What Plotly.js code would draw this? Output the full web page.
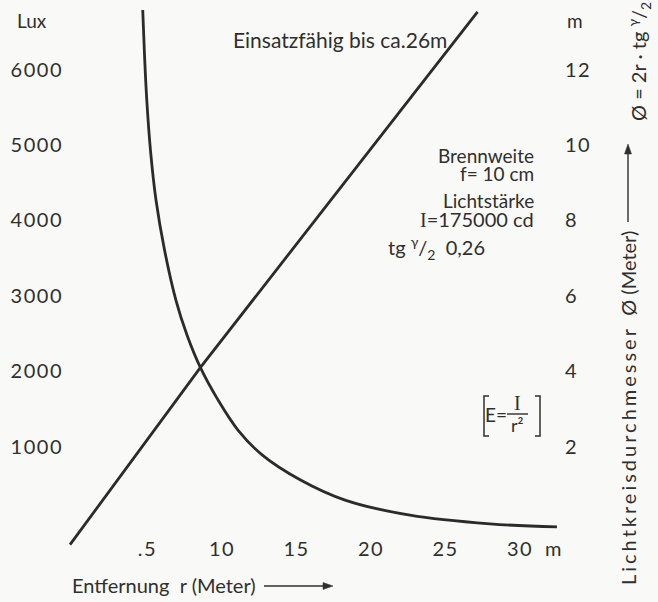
<!DOCTYPE html>
<html>
<head>
<meta charset="utf-8">
<script src="https://cdn.plot.ly/plotly-3.0.1.min.js"></script>
<style>html,body{margin:0;padding:0;background:#f9f9f7;}</style>
</head>
<body>
<div id="chart" style="width:658px;height:602px;"></div>
<script>
// Beleuchtungsstärke E (Lux) über Entfernung r (Meter)
const curveR   = [4.68, 4.80, 4.95, 5.20, 5.57, 6.14, 6.91, 7.65, 8.57, 9.73, 11.07, 12.69, 15.24, 18.26, 22.62, 27.99, 32.48];
const curveLux = [6790, 6190, 5600, 4930, 4270, 3610, 2940, 2480, 2040, 1620, 1220, 890, 560, 290, 90, -25, -65];
// Lichtkreisdurchmesser Ø (Meter) über Entfernung r
const lineR    = [-0.2, 8.57, 27.15];
const lineDiam = [-0.6, 4.11, 13.53];
// Achsenbeschriftungen
const xTickVals = [5, 10, 15, 20, 25, 30];
const xTickText = ['.5', '10', '15', '20', '25', '30'];
const luxTicks  = [1000, 2000, 3000, 4000, 5000, 6000];
const luxLabels = ['1000', '2000', '3000', '4000', '5000', '6000'];
const diamTicks = [2, 4, 6, 8, 10, 12];
const diamLabels = ['2', '4', '6', '8', '10', '12'];

const W = 658, H = 602;
const ML = 56, MR = 58, MT = 0, MB = 42;
const PW = W - ML - MR, PH = H - MT - MB;
function px(x){ return (x - ML) / PW; }
function py(y){ return (PH + MT - y) / PH; }

const FONT = 'Lato, "DejaVu Sans", sans-serif';
const INK = '#2b2b2b';
const TXT = '#2f2f2f';
function spaced(s, ls){ return '<span style="letter-spacing:' + ls + 'px">' + s + '</span>'; }

const traces = [
  {x: curveR, y: curveLux, type: 'scatter', mode: 'lines', line: {color: INK, width: 2.8, shape: 'spline', smoothing: 1}, xaxis: 'x', yaxis: 'y', hoverinfo: 'skip'},
  {x: lineR, y: lineDiam, type: 'scatter', mode: 'lines', line: {color: INK, width: 2.8}, xaxis: 'x', yaxis: 'y2', hoverinfo: 'skip'}
];

function ann(text, x, y, opts){
  const o = Object.assign({size: 19}, opts || {});
  const a = {text: text, x: px(x), y: py(y), xref: 'paper', yref: 'paper', showarrow: false,
    font: {family: o.family || FONT, size: o.size, color: TXT}, xanchor: o.xanchor || 'center', yanchor: 'middle'};
  if (o.textangle !== undefined) a.textangle = o.textangle;
  return a;
}
const serifI = '<span style="font-family:Liberation Serif">I</span>';

const annotations = [
  ann('Lux', 32, 21, {size: 19}),
  ann('m', 575, 21, {size: 19}),
  ann('Einsatzfähig bis ca.26m', 340, 40, {size: 21}),
  ann('Brennweite', 536, 155, {xanchor: 'right'}),
  ann('f= 10 cm', 536, 173, {xanchor: 'right'}),
  ann('Lichtstärke', 536, 201, {xanchor: 'right'}),
  ann(serifI + '=175000 cd', 536, 219, {xanchor: 'right', size: 20}),
  ann('tg <sup>γ</sup>/<sub>2</sub>  0,26', 386, 248, {xanchor: 'left', size: 20}),
  ann('m', 553, 548, {size: 20}),
  ann('Entfernung  r (Meter)', 70, 585, {xanchor: 'left', size: 20}),
  ann(spaced('Lichtkreisdurchmesser', 3) + '  Ø (Meter)', 628, 408, {textangle: -90, size: 20}),
  ann('Ø = 2r · tg <sup>γ</sup>/<sub>2</sub>', 639, 62, {textangle: -90, size: 20}),
  ann('E=', 496, 414, {size: 19}),
  ann('I', 517, 403, {family: 'Liberation Serif', size: 20}),
  ann('r²', 517, 425, {size: 18})
];

function path(pts, close){
  return 'M' + pts.map(p => px(p[0]) + ',' + py(p[1])).join(' L') + (close ? ' Z' : '');
}
const shapes = [
  // Formelklammern
  {type: 'path', xref: 'paper', yref: 'paper', path: path([[489,396],[484,396],[484,436],[489,436]]), line: {color: TXT, width: 1.5}},
  {type: 'path', xref: 'paper', yref: 'paper', path: path([[535,396],[540,396],[540,436],[535,436]]), line: {color: TXT, width: 1.5}},
  {type: 'line', xref: 'paper', yref: 'paper', x0: px(507), x1: px(528), y0: py(414), y1: py(414), line: {color: TXT, width: 1.4}},
  // Pfeil unten
  {type: 'line', xref: 'paper', yref: 'paper', x0: px(264), x1: px(326), y0: py(586), y1: py(586), line: {color: TXT, width: 1.4}},
  {type: 'path', xref: 'paper', yref: 'paper', path: path([[333,586],[323,582.5],[323,589.5]], true), fillcolor: TXT, line: {color: TXT, width: 0.5}},
  // Pfeil rechts
  {type: 'line', xref: 'paper', yref: 'paper', x0: px(628), x1: px(628), y0: py(222), y1: py(152), line: {color: TXT, width: 1.4}},
  {type: 'path', xref: 'paper', yref: 'paper', path: path([[628,144],[624.5,154],[631.5,154]], true), fillcolor: TXT, line: {color: TXT, width: 0.5}}
];

const TF = {family: FONT, size: 20, color: TXT};
const layout = {
  width: W, height: H,
  margin: {l: ML, r: MR, t: MT, b: MB, pad: 0},
  paper_bgcolor: '#f9f9f7', plot_bgcolor: 'rgba(0,0,0,0)',
  showlegend: false,
  font: {family: FONT, size: 19, color: TXT},
  xaxis: {range: [(ML - 73) / 14.9, (ML + PW - 73) / 14.9], tickvals: xTickVals, ticktext: xTickText.map(s => spaced(s, 1.5)),
    showgrid: false, zeroline: false, showline: false, ticks: '', anchor: 'free', position: (560 - 535) / 560,
    tickfont: TF, fixedrange: true},
  yaxis: {range: [(522 - 560) / 0.0754, 522 / 0.0754], tickvals: luxTicks, ticktext: luxLabels.map(s => spaced(s, 1.5)),
    showgrid: false, zeroline: false, showline: false, ticks: '', anchor: 'free', position: px(63), tickfont: TF, fixedrange: true},
  yaxis2: {range: [(522 - 560) / 37.7, 522 / 37.7], tickvals: diamTicks, ticktext: diamLabels.map(s => spaced(s, 1.5)),
    overlaying: 'y', side: 'right', showgrid: false,
    zeroline: false, showline: false, ticks: '', anchor: 'free', position: px(564), tickfont: TF, fixedrange: true},
  annotations: annotations,
  shapes: shapes
};

Plotly.newPlot('chart', traces, layout, {staticPlot: true, displayModeBar: false});
</script>
</body>
</html>
